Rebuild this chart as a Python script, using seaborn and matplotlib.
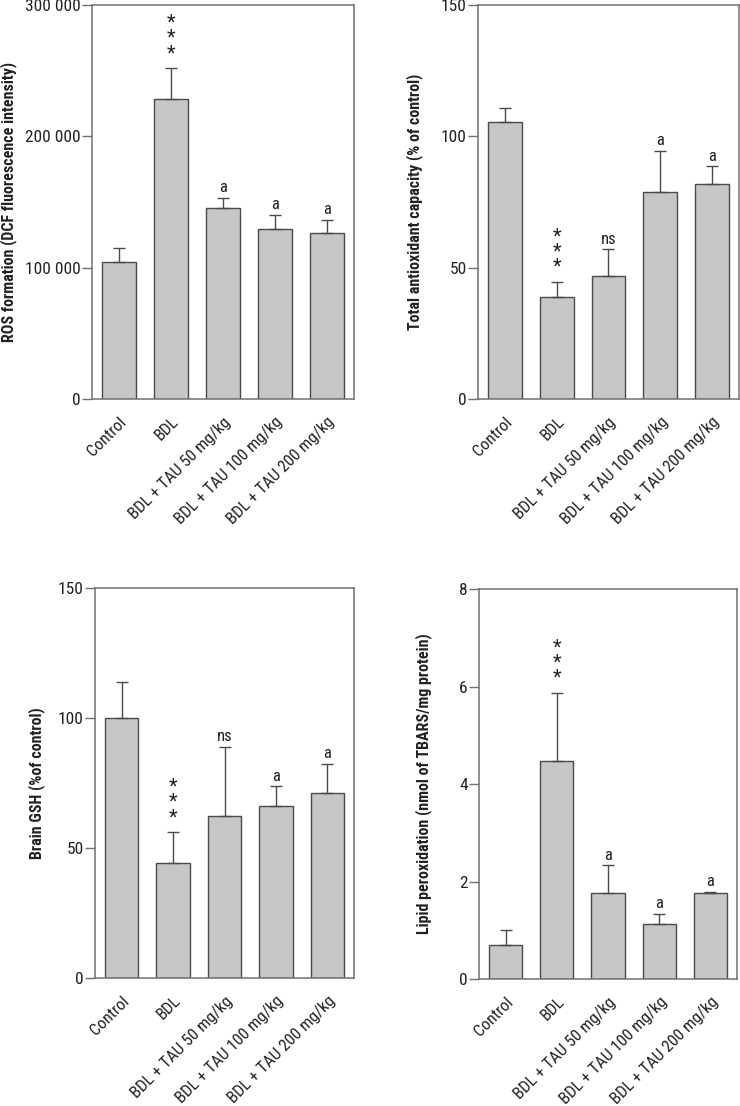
import numpy as np
import pandas as pd
import matplotlib
matplotlib.use("Agg")
import matplotlib.pyplot as plt
from matplotlib.ticker import FuncFormatter
import seaborn as sns

sns.set_theme(style="white")
plt.rcParams['font.family'] = ['Roboto Condensed', 'Lato', 'DejaVu Sans']

groups = ['Control', 'BDL', 'BDL + TAU 50 mg/kg', 'BDL + TAU 100 mg/kg', 'BDL + TAU 200 mg/kg']

# ROS formation
ros_mean = [104500, 228700, 145400, 129700, 126200]
ros_err = [10200, 23300, 7900, 10400, 10300]
ros_marks = ['', '*\n*\n*', 'a', 'a', 'a']

# Total antioxidant capacity
tac_mean = [105.6, 38.7, 46.8, 78.8, 81.7]
tac_err = [5.3, 6.0, 10.2, 15.7, 6.9]
tac_marks = ['', '*\n*\n*', 'ns', 'a', 'a']

# Brain GSH
gsh_mean = [100.0, 44.3, 62.4, 66.2, 71.2]
gsh_err = [13.8, 11.9, 26.5, 7.5, 11.3]
gsh_marks = ['', '*\n*\n*', 'ns', 'a', 'a']

# Lipid peroxidation
lpo_mean = [0.70, 4.47, 1.77, 1.12, 1.76]
lpo_err = [0.30, 1.40, 0.56, 0.21, 0.02]
lpo_marks = ['', '*\n*\n*', 'a', 'a', 'a']

# (ylabel, means, errors, marks, y ticks, axes rect, ylabel x in axes coords)
panels = [
    ('ROS formation (DCF fluorescence intensity)', ros_mean, ros_err, ros_marks,
     [0, 100000, 200000, 300000], [0.1243, 0.6392, 0.3541, 0.3562], -0.286),
    ('Total antioxidant capacity (% of control)', tac_mean, tac_err, tac_marks,
     [0, 50, 100, 150], [0.6459, 0.6392, 0.3527, 0.3562], -0.212),
    ('Brain GSH (%of control)', gsh_mean, gsh_err, gsh_marks,
     [0, 50, 100, 150], [0.1284, 0.1157, 0.3500, 0.3526], -0.193),
    ('Lipid peroxidation (nmol of TBARS/mg protein)', lpo_mean, lpo_err, lpo_marks,
     [0, 2, 4, 6, 8], [0.6473, 0.1148, 0.3486, 0.3526], -0.182),
]

fig = plt.figure(figsize=(7.4, 11.06), dpi=100)
text_col = '#222222'
spine_col = '#707070'

for ylabel, mean, err, marks, yticks, rect, label_x in panels:
    ax = fig.add_axes(rect)
    df = pd.DataFrame({'group': groups, 'value': mean})
    sns.barplot(data=df, x='group', y='value', color='#c6c6c6', saturation=1,
                width=0.65, edgecolor='#4a4a4a', linewidth=1.0, errorbar=None, ax=ax)
    x = np.arange(len(groups))
    ax.errorbar(x, mean, yerr=[np.zeros(len(err)), err], fmt='none',
                ecolor='#4a4a4a', elinewidth=1.0, capsize=4.6, capthick=1.0, zorder=3)
    for xi, m, e, lab in zip(x, mean, err, marks):
        if lab.startswith('*'):
            ax.annotate(lab, (xi, m + e), xytext=(0, 3.5), textcoords='offset points',
                        ha='center', va='bottom', fontsize=14.5, color=text_col,
                        linespacing=0.75)
        elif lab:
            ax.annotate(lab, (xi, m + e), xytext=(0, 2), textcoords='offset points',
                        ha='center', va='bottom', fontsize=12, color=text_col)
    ax.set_xlim(-0.52, 4.52)
    ax.set_ylim(yticks[0], yticks[-1])
    ax.set_yticks(yticks)
    if yticks[-1] > 1000:
        ax.yaxis.set_major_formatter(FuncFormatter(lambda v, p: f'{int(v):,}'.replace(',', ' ')))
    ax.set_xlabel('')
    ax.set_ylabel(ylabel, fontsize=11.5, fontweight='bold', color=text_col)
    ax.yaxis.set_label_coords(label_x, 0.5)
    ax.set_xticks(x)
    ax.set_xticklabels(groups, rotation=45, ha='right', rotation_mode='anchor',
                       fontsize=12, color=text_col)
    ax.tick_params(axis='y', left=True, length=7, width=1, color=spine_col,
                   labelsize=12.5, labelcolor=text_col, pad=1)
    ax.tick_params(axis='x', bottom=False, pad=5)
    for s in ax.spines.values():
        s.set_color(spine_col)
        s.set_linewidth(1.1)

fig.savefig('out.png', dpi=100, facecolor='white')
